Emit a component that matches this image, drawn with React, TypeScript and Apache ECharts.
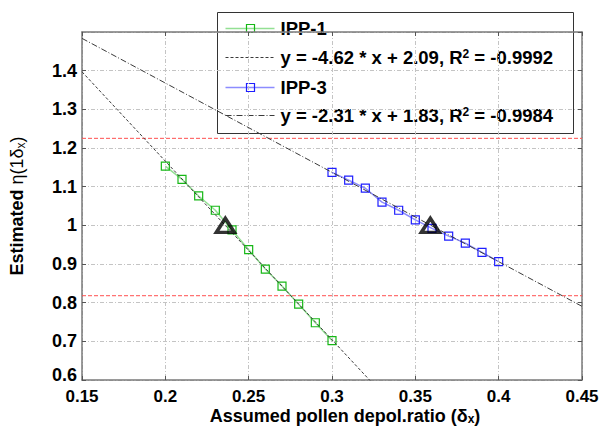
import React, { useEffect, useRef } from "react";
import * as echarts from "echarts";

// ---- data ----
const ipp1X = [0.2, 0.21, 0.22, 0.23, 0.24, 0.25, 0.26, 0.27, 0.28, 0.29, 0.3];
const ipp1Y = [1.153, 1.119, 1.076, 1.039, 0.988, 0.937, 0.887, 0.843, 0.796, 0.748, 0.702];
const ipp3X = [0.3, 0.31, 0.32, 0.33, 0.34, 0.35, 0.36, 0.37, 0.38, 0.39, 0.4];
const ipp3Y = [1.137, 1.117, 1.096, 1.06, 1.039, 1.014, 0.992, 0.972, 0.954, 0.93, 0.906];
const seriesNames = ["IPP-1", "IPP-3"];
const fitSlopes = [-4.62, -2.31];
const fitIntercepts = [2.09, 1.83];
const fitR2 = ["-0.9992", "-0.9984"];
const triangleX = [0.236, 0.359];
const triangleY = [1.0, 1.0];
const refLevels = [1.225, 0.818];
const xRange = [0.15, 0.45];
const yRange = [0.6, 1.5];
const xTickStep = 0.05;
const yTickStep = 0.1;

const FONT = "'Liberation Sans', Arial, Helvetica, sans-serif";

const zip = (xs: number[], ys: number[]) => xs.map((x, i) => [x, ys[i]]);
const fitLine = (k: number) =>
  xRange.map((x) => [x, fitSlopes[k] * x + fitIntercepts[k]]);
const fitLabel = (k: number) =>
  `{t|y = ${fitSlopes[k].toFixed(2)} * x + ${fitIntercepts[k].toFixed(2)}, R}{sup|2}{t| = ${fitR2[k]}}`;
const fmt = (v: number) => String(+v.toFixed(2));

const GREEN = "#16b816";
const GREEN_LINE = "#93e093";
const BLUE = "#1f1fff";
const BLUE_LINE = "#8c8cff";
const FIT = "#3a3a3a";
const RED = "#ff5050";

export default function App() {
  const ref = useRef<HTMLDivElement>(null);
  useEffect(() => {
    document.body.style.margin = "0";
    if (!ref.current) return;
    const chart = echarts.init(ref.current, undefined, { renderer: "svg" });

    const gridLine = { show: true, lineStyle: { color: "#c4c4c4", width: 1, type: [4, 2, 1, 2] as any } };
    const axisLine = { show: true, lineStyle: { color: "#7a7a7a", width: 1.5 } };
    const tick = { show: true, inside: true, length: 4, lineStyle: { color: "#555", width: 1 } };
    const labelStyle = { fontFamily: FONT, fontWeight: "bold" as const, lineHeight: 14, color: "#000" };

    const legendRows = [16, 45, 75, 103];
    const legendTexts = [
      `{t|${seriesNames[0]}}`,
      fitLabel(0),
      `{t|${seriesNames[1]}}`,
      fitLabel(1),
    ];
    const rich = {
      t: { fontFamily: FONT, fontWeight: "bold", fontSize: 18.5, lineHeight: 20, fill: "#000" },
      sup: { fontFamily: FONT, fontWeight: "bold", fontSize: 12, lineHeight: 12, verticalAlign: "top", fill: "#000" },
    };
    const legendLineStyles = [
      { stroke: GREEN_LINE, lineWidth: 1.5 },
      { stroke: FIT, lineWidth: 1, lineDash: [3, 2] },
      { stroke: BLUE_LINE, lineWidth: 1.5 },
      { stroke: FIT, lineWidth: 1, lineDash: [6, 2, 1, 2] },
    ];
    const legendChildren: any[] = [
      {
        type: "rect",
        shape: { x: 0, y: 0, width: 356, height: 121 },
        style: { fill: "#fff", stroke: "#333", lineWidth: 1 },
      },
    ];
    legendRows.forEach((y, i) => {
      legendChildren.push({
        type: "line",
        shape: { x1: 8, y1: y, x2: 57, y2: y },
        style: legendLineStyles[i],
      });
      if (i === 0 || i === 2) {
        legendChildren.push({
          type: "rect",
          shape: { x: 29, y: y - 4, width: 8, height: 8 },
          style: { fill: "none", stroke: i === 0 ? GREEN : BLUE, lineWidth: 1.2 },
        });
      }
      legendChildren.push({
        type: "text",
        x: 63,
        y: y,
        style: { text: legendTexts[i], rich, verticalAlign: "middle", align: "left" },
      });
    });

    const option: any = {
      animation: false,
      backgroundColor: "#fff",
      grid: { left: 79, right: 21, top: 32, bottom: 53, containLabel: false },
      xAxis: [
        {
          type: "value",
          min: xRange[0],
          max: xRange[1],
          interval: xTickStep,
          position: "bottom",
          name: "{b|Assumed pollen depol.ratio (δ}{sub|x}{b|)}",
          nameLocation: "middle",
          nameGap: 27,
          nameMoveOverlap: false,
          nameTextStyle: {
            padding: [0, 0, 0, 26],
            rich: {
              b: { fontFamily: FONT, fontWeight: "bold", fontSize: 18, lineHeight: 18, color: "#000" },
              sub: { fontFamily: FONT, fontWeight: "bold", fontSize: 12, lineHeight: 10, verticalAlign: "bottom", color: "#000" },
            },
          },
          axisLine,
          axisTick: tick,
          axisLabel: { ...labelStyle, fontSize: 17, margin: 9, formatter: fmt },
          splitLine: gridLine,
        },
        {
          type: "value",
          min: xRange[0],
          max: xRange[1],
          interval: xTickStep,
          position: "top",
          axisLine,
          axisTick: tick,
          axisLabel: { show: false },
          splitLine: { show: false },
        },
      ],
      yAxis: [
        {
          type: "value",
          min: yRange[0],
          max: yRange[1],
          interval: yTickStep,
          position: "left",
          name: "{b|Estimated }{e|η(1δ}{sub|x}{e|)}",
          nameLocation: "middle",
          nameRotate: 90,
          nameGap: 55,
          nameTextStyle: {
            rich: {
              b: { fontFamily: FONT, fontWeight: "bold", fontSize: 18, lineHeight: 20, color: "#000" },
              e: { fontFamily: FONT, fontWeight: "normal", fontSize: 18, lineHeight: 20, color: "#000" },
              sub: { fontFamily: FONT, fontWeight: "normal", fontSize: 12, lineHeight: 12, verticalAlign: "bottom", color: "#000" },
            },
          },
          axisLine,
          axisTick: tick,
          axisLabel: {
            ...labelStyle,
            fontSize: 18,
            margin: 5,
            showMaxLabel: false,
            formatter: (v: number) => (Math.abs(v - yRange[0]) < 1e-9 ? `{lo|${fmt(v)}}` : fmt(v)),
            rich: {
              lo: {
                fontFamily: FONT,
                fontWeight: "bold",
                fontSize: 18,
                lineHeight: 14,
                color: "#000",
                padding: [0, 0, 10, 0],
              },
            },
          },
          splitLine: gridLine,
        },
        {
          type: "value",
          min: yRange[0],
          max: yRange[1],
          interval: yTickStep,
          position: "right",
          axisLine,
          axisTick: tick,
          axisLabel: { show: false },
          splitLine: { show: false },
        },
      ],
      series: [
        ...refLevels.map((lv) => ({
          type: "line",
          data: xRange.map((x) => [x, lv]),
          symbol: "none",
          lineStyle: { color: RED, width: 1, type: [4, 2] },
          silent: true,
          z: 1,
        })),
        {
          name: seriesNames[0],
          type: "line",
          data: zip(ipp1X, ipp1Y),
          symbol: "rect",
          symbolSize: 8,
          itemStyle: { color: "transparent", borderColor: GREEN, borderWidth: 1.2 },
          lineStyle: { color: GREEN_LINE, width: 1.5 },
          z: 3,
        },
        {
          type: "line",
          data: fitLine(0),
          symbol: "none",
          clip: true,
          lineStyle: { color: FIT, width: 1, type: [3, 2] },
          z: 4,
        },
        {
          name: seriesNames[1],
          type: "line",
          data: zip(ipp3X, ipp3Y),
          symbol: "rect",
          symbolSize: 8,
          itemStyle: { color: "transparent", borderColor: BLUE, borderWidth: 1.2 },
          lineStyle: { color: BLUE_LINE, width: 1.5 },
          z: 3,
        },
        {
          type: "line",
          data: fitLine(1),
          symbol: "none",
          clip: true,
          lineStyle: { color: FIT, width: 1, type: [6, 2, 1, 2] },
          z: 4,
        },
        {
          type: "scatter",
          data: zip(triangleX, triangleY),
          symbol: "triangle",
          symbolSize: [18, 14],
          itemStyle: { color: "transparent", borderColor: "#000", borderWidth: 3.5 },
          z: 5,
        },
      ],
      graphic: [
        {
          type: "group",
          left: 217,
          top: 12,
          z: 100,
          children: legendChildren,
        },
      ],
    };
    chart.setOption(option);
    return () => chart.dispose();
  }, []);
  return <div ref={ref} style={{ width: 603, height: 433 }} />;
}
